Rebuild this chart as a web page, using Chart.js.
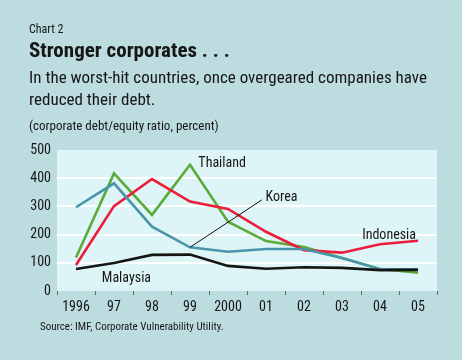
<!DOCTYPE html>
<html>
<head>
<meta charset="utf-8">
<script src="https://cdn.jsdelivr.net/npm/chart.js@4"></script>
<style>
body{margin:0;background:#bddcdf;font-family:"Roboto Condensed","Liberation Sans",sans-serif;color:#161616;}
#wrap{position:relative;width:462px;height:360px;overflow:hidden;}
#wrap canvas{position:absolute;left:0;top:0;}
.t{position:absolute;left:29px;white-space:nowrap;}
#c2{top:22px;font-size:12px;}
#hd{top:38px;font-size:21px;font-weight:bold;}
#sub{top:66px;font-size:17px;line-height:22px;}
#unit{top:118px;font-size:13px;}
#src{top:320px;left:40px;font-size:11px;}
</style>
</head>
<body>
<div id="wrap">
<canvas id="lineChart" width="462" height="360"></canvas>
<div class="t" id="c2">Chart 2</div>
<div class="t" id="hd">Stronger corporates . . .</div>
<div class="t" id="sub">In the worst-hit countries, once overgeared companies have<br>reduced their debt.</div>
<div class="t" id="unit">(corporate debt/equity ratio, percent)</div>
<div class="t" id="src">Source: IMF, Corporate Vulnerability Utility.</div>
</div>
<script>
// data
const years = ["1996","97","98","99","2000","01","02","03","04","05"];
const malaysia  = [78, 99, 128, 129, 89, 79, 84, 82, 74, 75];
const thailand  = [119, 417, 270, 448, 246, 177, 156, 117, 78, 65];
const indonesia = [92, 301, 397, 317, 291, 210, 145, 136, 166, 178];
const korea     = [297, 382, 228, 155, 139, 149, 149, 117, 77, 77];
const yTicks = [0, 100, 200, 300, 400, 500];

// label anchors in data units: [text, category index, value]
const labels = [
["Thailand", 3.22, 439],
["Korea", 4.99, 320],
["Indonesia", 7.53, 184],
["Malaysia", 0.68, 33]
];
// leader line from the Korea point in 99 to the label
const koreaLeader = [[3, korea[3]], [4.89, 323]];

const FONT = '"Roboto Condensed","Liberation Sans",sans-serif';

const plotBg = {
id:"plotBg",
beforeDraw(chart){
const a = chart.chartArea, ctx = chart.ctx;
ctx.save();
ctx.fillStyle = "#ddf5f7";
ctx.fillRect(a.left, a.top, a.right - a.left, a.bottom - a.top);
ctx.restore();
}
};

const notes = {
id:"notes",
afterDatasetsDraw(chart){
const ctx = chart.ctx, x = chart.scales.x, y = chart.scales.y;
ctx.save();
ctx.strokeStyle = "#111";
ctx.lineWidth = 1;
ctx.beginPath();
ctx.moveTo(x.getPixelForValue(koreaLeader[0][0]), y.getPixelForValue(koreaLeader[0][1]));
ctx.lineTo(x.getPixelForValue(koreaLeader[1][0]), y.getPixelForValue(koreaLeader[1][1]));
ctx.stroke();
ctx.fillStyle = "#161616";
ctx.font = "14px " + FONT;
ctx.textBaseline = "alphabetic";
labels.forEach(l => {
ctx.fillText(l[0], x.getPixelForValue(l[1]), y.getPixelForValue(l[2]));
});
ctx.restore();
}
};

function ds(label, data, color, w){
return {label:label, data:data, borderColor:color, borderWidth:w, pointRadius:0, tension:0, fill:false};
}

new Chart(document.getElementById("lineChart"),{
type:"line",
data:{
labels:years,
datasets:[
ds("Malaysia", malaysia, "#151515", 2.6),
ds("Korea", korea, "#4a95ab", 2.6),
ds("Indonesia", indonesia, "#ec1c3a", 2.6),
ds("Thailand", thailand, "#5aab3a", 2.6)
]
},
options:{
responsive:false,
animation:false,
layout:{padding:{top:150,right:25,left:0,bottom:0}},
plugins:{legend:{display:false},tooltip:{enabled:false}},
scales:{
x:{
offset:true,
grid:{offset:true,drawOnChartArea:false,drawTicks:true,tickLength:4,color:"#666",lineWidth:1},
border:{display:false},
ticks:{color:"#161616",font:{family:FONT,size:14},padding:4,maxRotation:0,autoSkip:false},
afterFit(axis){axis.height = 69;}
},
y:{
min:0,max:500,
afterBuildTicks(axis){axis.ticks = yTicks.map(v => ({value:v}));},
grid:{drawTicks:false,lineWidth:2,color:c => (c.tick && (c.tick.value === 0 || c.tick.value === 500)) ? "rgba(0,0,0,0)" : "#ffffff"},
border:{display:false},
ticks:{color:"#161616",font:{family:FONT,size:14},padding:6},
afterFit(axis){axis.width = 57;}
}
}
},
plugins:[plotBg, notes]
});
</script>
</body>
</html>
